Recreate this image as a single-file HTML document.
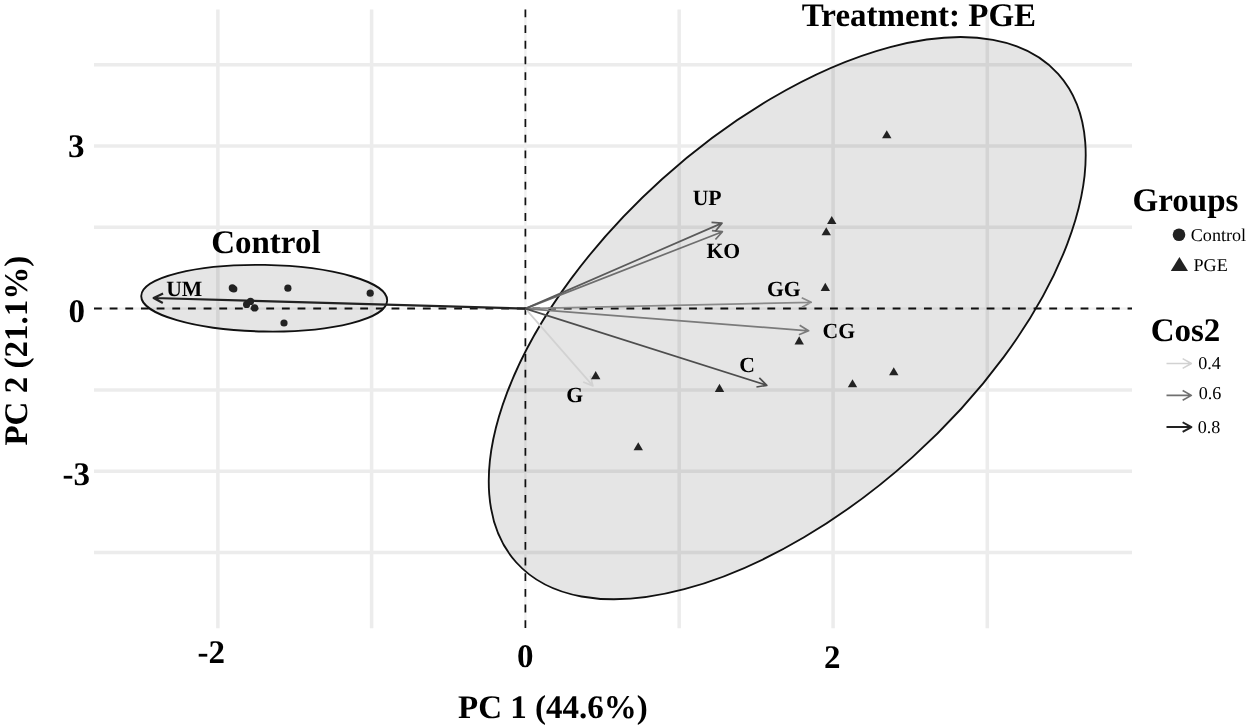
<!DOCTYPE html>
<html><head><meta charset="utf-8"><title>PCA biplot</title>
<style>html,body{margin:0;padding:0;background:#fff}svg{display:block}svg{will-change:transform}text{font-family:"Liberation Serif","Times New Roman",serif;fill:#000;text-rendering:geometricPrecision}.b{font-weight:bold}.t{font-size:33px}.v{font-size:21.7px}.l{font-size:18.1px}</style>
</head><body>
<svg width="1250" height="728" viewBox="0 0 1250 728">
<rect width="1250" height="728" fill="#fff"/>
<g stroke="#ececec" stroke-width="3.5" fill="none">
<line x1="217.90" y1="9.5" x2="217.90" y2="628.2"/>
<line x1="371.60" y1="9.5" x2="371.60" y2="628.2"/>
<line x1="679.20" y1="9.5" x2="679.20" y2="628.2"/>
<line x1="833.10" y1="9.5" x2="833.10" y2="628.2"/>
<line x1="987.30" y1="9.5" x2="987.30" y2="628.2"/>
<line x1="94" y1="64.70" x2="1132" y2="64.70"/>
<line x1="94" y1="146.00" x2="1132" y2="146.00"/>
<line x1="94" y1="227.30" x2="1132" y2="227.30"/>
<line x1="94" y1="389.90" x2="1132" y2="389.90"/>
<line x1="94" y1="471.20" x2="1132" y2="471.20"/>
<line x1="94" y1="552.50" x2="1132" y2="552.50"/>
</g>
<g stroke="#f0f0f0" stroke-width="2.4" fill="none"><line x1="94" y1="308.6" x2="1132" y2="308.6"/><line x1="525.4" y1="9.5" x2="525.4" y2="628.2"/></g>
<g stroke="#111" stroke-width="2" stroke-dasharray="7.83 7.83" fill="none">
<line x1="94" y1="308.6" x2="1132" y2="308.6"/>
<line x1="525.4" y1="9.5" x2="525.4" y2="628.2" stroke-width="1.7"/>
</g>
<ellipse cx="787.24" cy="318.16" rx="364.8" ry="187.1" transform="rotate(-42.05 787.24 318.16)" fill="rgba(0,0,0,0.1)" stroke="#111" stroke-width="1.85"/>
<ellipse cx="264.2" cy="298.2" rx="123.0" ry="33.3" transform="rotate(1.05 264.2 298.2)" fill="rgba(0,0,0,0.1)" stroke="#111" stroke-width="1.85"/>
<path d="M525.40 308.60L592.90 385.90M590.34 375.72L592.90 385.90L583.16 381.99" stroke="#d2d2d2" stroke-width="1.7" fill="none" stroke-linejoin="round" stroke-linecap="butt"/>
<path d="M525.40 308.60L811.20 302.30M801.74 297.74L811.20 302.30L801.95 307.27" stroke="#8a8a8a" stroke-width="1.7" fill="none" stroke-linejoin="round" stroke-linecap="butt"/>
<path d="M525.40 308.60L808.60 330.80M799.65 325.32L808.60 330.80L798.90 334.82" stroke="#7a7a7a" stroke-width="1.7" fill="none" stroke-linejoin="round" stroke-linecap="butt"/>
<path d="M525.40 308.60L722.40 231.70M711.95 230.66L722.40 231.70L715.42 239.54" stroke="#6e6e6e" stroke-width="1.7" fill="none" stroke-linejoin="round" stroke-linecap="butt"/>
<path d="M525.40 308.60L722.00 223.10M711.52 222.46L722.00 223.10L715.32 231.20" stroke="#5a5a5a" stroke-width="1.7" fill="none" stroke-linejoin="round" stroke-linecap="butt"/>
<path d="M525.40 308.60L766.80 385.30M759.33 377.92L766.80 385.30L756.44 387.01" stroke="#4d4d4d" stroke-width="1.7" fill="none" stroke-linejoin="round" stroke-linecap="butt"/>
<path d="M525.40 308.60L153.60 298.00M162.82 303.03L153.60 298.00L163.09 293.50" stroke="#222" stroke-width="2.1" fill="none" stroke-linejoin="round" stroke-linecap="butt"/>
<g fill="#222">
<circle cx="232.3" cy="287.9" r="3.6"/>
<circle cx="233.8" cy="289.0" r="3.6"/>
<circle cx="287.9" cy="288.2" r="3.6"/>
<circle cx="370.2" cy="293.2" r="3.6"/>
<circle cx="250.5" cy="301.4" r="3.6"/>
<circle cx="246.6" cy="304.4" r="3.6"/>
<circle cx="254.6" cy="307.9" r="3.6"/>
<circle cx="284" cy="323" r="3.6"/>
<path d="M882.05 138.35L891.45 138.35L886.75 130.15Z"/>
<path d="M827.05 224.10L836.45 224.10L831.75 215.90Z"/>
<path d="M821.55 235.35L830.95 235.35L826.25 227.15Z"/>
<path d="M820.60 291.00L830.00 291.00L825.30 282.80Z"/>
<path d="M794.50 344.50L803.90 344.50L799.20 336.30Z"/>
<path d="M591.00 379.30L600.40 379.30L595.70 371.10Z"/>
<path d="M633.55 450.35L642.95 450.35L638.25 442.15Z"/>
<path d="M714.80 392.00L724.20 392.00L719.50 383.80Z"/>
<path d="M847.80 387.35L857.20 387.35L852.50 379.15Z"/>
<path d="M889.05 375.35L898.45 375.35L893.75 367.15Z"/>
</g>
<text x="166.2" y="295.6" class="b v">UM</text>
<text x="692.7" y="205.4" class="b v">UP</text>
<text x="706.4" y="258.3" class="b v">KO</text>
<text x="767.0" y="295.8" class="b v">GG</text>
<text x="822.6" y="337.6" class="b v">CG</text>
<text x="739.3" y="372.0" class="b v">C</text>
<text x="566.3" y="401.7" class="b v">G</text>
<text x="211.2" y="252.5" class="b t">Control</text>
<text x="801.8" y="25.7" class="b t">Treatment: PGE</text>
<text x="68.0" y="157.2" class="b t">3</text>
<text x="68.4" y="322.0" class="b t">0</text>
<text x="62.5" y="485.0" class="b t">-3</text>
<text x="197.5" y="663.3" class="b t">-2</text>
<text x="516.9" y="667.2" class="b t">0</text>
<text x="824.0" y="667.8" class="b t">2</text>
<text x="458.0" y="717.6" class="b t">PC 1 (44.6%)</text>
<text class="b t" transform="translate(27.3 445.6) rotate(-90)">PC 2 (21.1%)</text>
<text x="1132.6" y="211" class="b t">Groups</text>
<circle cx="1179" cy="234.8" r="6.3" fill="#222"/>
<text x="1190.8" y="241.2" class="l">Control</text>
<path d="M1170.8 271L1188 271L1179.4 257Z" fill="#222"/>
<text x="1193.5" y="271" class="l">PGE</text>
<text x="1150.7" y="341.2" class="b t">Cos2</text>
<path d="M1166.50 363.50L1191.40 363.50M1182.65 358.65L1191.40 363.50L1182.65 368.35" stroke="#d2d2d2" stroke-width="1.5" fill="none" stroke-linejoin="round" stroke-linecap="butt"/>
<text x="1198.3" y="368.9" class="l">0.4</text>
<path d="M1166.50 395.40L1191.40 395.40M1182.65 390.55L1191.40 395.40L1182.65 400.25" stroke="#707070" stroke-width="1.6" fill="none" stroke-linejoin="round" stroke-linecap="butt"/>
<text x="1198.7" y="399.3" class="l">0.6</text>
<path d="M1166.50 427.10L1191.40 427.10M1182.65 422.25L1191.40 427.10L1182.65 431.95" stroke="#222" stroke-width="2.0" fill="none" stroke-linejoin="round" stroke-linecap="butt"/>
<text x="1197.7" y="432.9" class="l">0.8</text>
</svg></body></html>
